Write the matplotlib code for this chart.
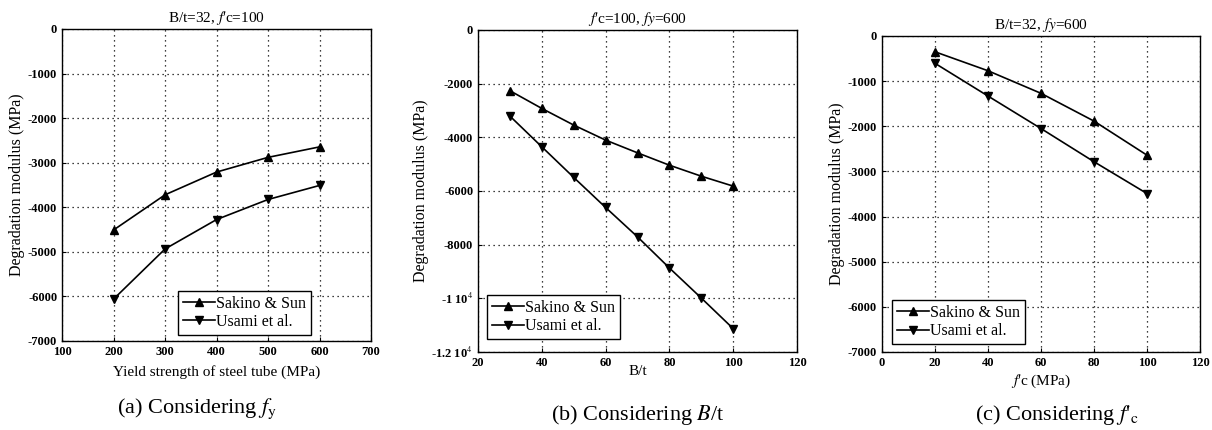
import numpy as np
import matplotlib
matplotlib.use("Agg")
import matplotlib.pyplot as plt

plt.rcParams['font.family'] = 'Liberation Serif'
plt.rcParams['mathtext.fontset'] = 'stix'
plt.rcParams['axes.unicode_minus'] = False

# (a) yield strength of steel tube
fy = [200, 300, 400, 500, 600]
sakino_fy = [-4510, -3720, -3210, -2880, -2645]
usami_fy = [-6060, -4935, -4275, -3825, -3510]

# (b) width-to-thickness ratio
bt = [30, 40, 50, 60, 70, 80, 90, 100]
sakino_bt = [-2265, -2925, -3545, -4105, -4580, -5040, -5450, -5820]
usami_bt = [-3210, -4355, -5495, -6615, -7710, -8870, -9990, -11130]

# (c) concrete strength
fc = [20, 40, 60, 80, 100]
sakino_fc = [-350, -770, -1270, -1885, -2640]
usami_fc = [-605, -1330, -2050, -2785, -3490]

yticks_b = [0, -2000, -4000, -6000, -8000, -10000, -12000]
ylabels_b = ['0', '-2000', '-4000', '-6000', '-8000', '-1 10$^4$', '-1.2 10$^4$']

fig = plt.figure(figsize=(12.12, 4.3), dpi=100)

panels = [
    dict(rect=[0.0512, 0.207, 0.255, 0.7256], x=fy, s=sakino_fy, u=usami_fy,
         xlim=(100, 700), xt=np.arange(100, 701, 100), ylim=(-7000, 0),
         yt=np.arange(-7000, 1, 1000), title=r"B/t=32, $f$'c=100",
         xlabel='Yield strength of steel tube (MPa)', xlpad=5,
         leg=(0.375, 0.02), cap=r'(a) Considering $f_{\rm y}$', capxy=(0.163, 0.02)),
    dict(rect=[0.3944, 0.1814, 0.2632, 0.749], x=bt, s=sakino_bt, u=usami_bt,
         xlim=(20, 120), xt=np.arange(20, 121, 20), ylim=(-12000, 0),
         yt=None, title=r"$f$'c=100, $fy$=600",
         xlabel='B/t', xlpad=-3,
         leg=(0.028, 0.04), cap=r'(b) Considering $B$/t', capxy=(0.526, 0.008)),
    dict(rect=[0.7277, 0.1814, 0.2624, 0.7349], x=fc, s=sakino_fc, u=usami_fc,
         xlim=(0, 120), xt=np.arange(0, 121, 20), ylim=(-7000, 0),
         yt=np.arange(-7000, 1, 1000), title=r"B/t=32, $fy$=600",
         xlabel=r"$f$'c (MPa)", xlpad=3,
         leg=(0.032, 0.025), cap=r"(c) Considering $f$'$_{\rm c}$", capxy=(0.872, 0.008)),
]

for p in panels:
    ax = fig.add_axes(p['rect'])
    ax.plot(p['x'], p['s'], color='black', lw=1.2, marker='^', ms=5.5, label='Sakino & Sun')
    ax.plot(p['x'], p['u'], color='black', lw=1.2, marker='v', ms=5.5, label='Usami et al.')
    ax.set_xlim(p['xlim'])
    ax.set_ylim(p['ylim'])
    ax.set_xticks(p['xt'])
    if p['yt'] is None:
        ax.set_yticks(yticks_b)
        ax.set_yticklabels(ylabels_b)
    else:
        ax.set_yticks(p['yt'])
    ax.tick_params(direction='in', length=3, labelsize=9, width=0.8)
    for lab in ax.get_xticklabels() + ax.get_yticklabels():
        lab.set_fontweight('bold')
    ax.grid(True, ls=(0, (1, 3)), color='black', lw=0.9)
    for sp in ax.spines.values():
        sp.set_linewidth(1.0)
    ax.set_title(p['title'], fontsize=11, pad=5)
    ax.set_xlabel(p['xlabel'], fontsize=11, labelpad=p['xlpad'])
    ax.set_ylabel('Degradation modulus (MPa)', fontsize=11.5, labelpad=2)
    leg = ax.legend(loc='lower left', bbox_to_anchor=p['leg'],
                    prop={'family': 'Liberation Serif', 'size': 11.5},
                    fancybox=False, framealpha=1, edgecolor='black',
                    handlelength=2.0, borderpad=0.3, labelspacing=0.15,
                    handletextpad=0.1, borderaxespad=0)
    leg.get_frame().set_linewidth(1.0)
    fig.text(p['capxy'][0], p['capxy'][1], p['cap'], fontsize=16, ha='center', va='bottom')

fig.savefig('out.png', dpi=100, facecolor='white')
